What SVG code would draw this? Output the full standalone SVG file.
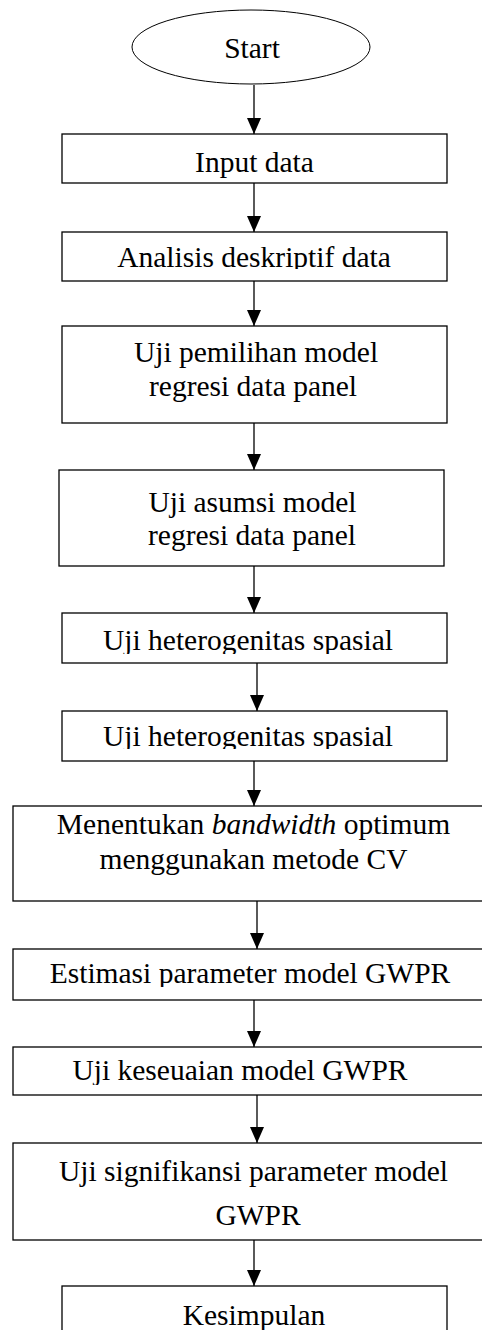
<svg xmlns="http://www.w3.org/2000/svg" width="482" height="1330" viewBox="0 0 482 1330">
<style>
.box{fill:#fff;stroke:#000;stroke-width:1.3}
.t{font-family:"Liberation Serif","Times New Roman",serif;font-size:29.5px;fill:#000;text-anchor:middle}
.c{stroke:#000;stroke-width:1.3;fill:none}
</style>
<defs>
<marker id="ah" markerUnits="userSpaceOnUse" viewBox="0 0 16 14" refX="16" refY="7" markerWidth="16" markerHeight="14" orient="auto">
<path d="M0,0 L16,7 L0,14 z" fill="#000"/>
</marker>
<clipPath id="cA"><rect x="0" y="232" width="482" height="37"/></clipPath>
<clipPath id="cH1"><rect x="0" y="613" width="482" height="41"/></clipPath>
<clipPath id="cH2"><rect x="0" y="711" width="482" height="38"/></clipPath>
<clipPath id="cE"><rect x="0" y="949" width="482" height="38"/></clipPath>
<clipPath id="cK"><rect x="0" y="1047" width="482" height="38"/></clipPath>
</defs>
<rect width="482" height="1330" fill="#fff"/>
<g id="connectors">
<line class="c" x1="254" y1="85" x2="254" y2="134" marker-end="url(#ah)"/>
<line class="c" x1="254" y1="183" x2="254" y2="232" marker-end="url(#ah)"/>
<line class="c" x1="254" y1="281" x2="254" y2="326" marker-end="url(#ah)"/>
<line class="c" x1="254" y1="423" x2="254" y2="470" marker-end="url(#ah)"/>
<line class="c" x1="254" y1="566" x2="254" y2="613" marker-end="url(#ah)"/>
<line class="c" x1="257" y1="663" x2="257" y2="711" marker-end="url(#ah)"/>
<line class="c" x1="254" y1="761" x2="254" y2="806" marker-end="url(#ah)"/>
<line class="c" x1="257" y1="901" x2="257" y2="949" marker-end="url(#ah)"/>
<line class="c" x1="254" y1="1000" x2="254" y2="1047" marker-end="url(#ah)"/>
<line class="c" x1="257" y1="1095" x2="257" y2="1143" marker-end="url(#ah)"/>
<line class="c" x1="254" y1="1240" x2="254" y2="1286" marker-end="url(#ah)"/>
</g>
<g id="start">
<ellipse cx="251" cy="47" rx="119" ry="37" fill="#fff" stroke="#000" stroke-width="1"/>
<text class="t" x="252" y="58">Start</text>
</g>
<g id="input">
<rect class="box" x="62" y="134" width="385" height="49"/>
<text class="t" x="254.5" y="172">Input data</text>
</g>
<g id="analisis">
<rect class="box" x="62" y="232" width="385" height="49"/>
<text class="t" x="254" y="267" clip-path="url(#cA)">Analisis deskriptif data</text>
</g>
<g id="pemilihan">
<rect class="box" x="62" y="326" width="385" height="97"/>
<text class="t" x="256" y="362">Uji pemilihan model</text>
<text class="t" x="253" y="396">regresi data panel</text>
</g>
<g id="asumsi">
<rect class="box" x="59" y="470" width="385" height="96"/>
<text class="t" x="252.5" y="512">Uji asumsi model</text>
<text class="t" x="252" y="545">regresi data panel</text>
</g>
<g id="heterogenitas1">
<rect class="box" x="62" y="613" width="385" height="50"/>
<text class="t" x="248" y="650" clip-path="url(#cH1)">Uji heterogenitas spasial</text>
</g>
<g id="heterogenitas2">
<rect class="box" x="62" y="711" width="385" height="50"/>
<text class="t" x="248" y="746" clip-path="url(#cH2)">Uji heterogenitas spasial</text>
</g>
<g id="bandwidth">
<rect class="box" x="13" y="806" width="482" height="95"/>
<text class="t" x="253.5" y="834">Menentukan <tspan font-style="italic">bandwidth</tspan> optimum</text>
<text class="t" x="253.5" y="869">menggunakan metode CV</text>
</g>
<g id="estimasi">
<rect class="box" x="13" y="949" width="482" height="51"/>
<text class="t" x="250" y="983" clip-path="url(#cE)">Estimasi parameter model GWPR</text>
</g>
<g id="keseuaian">
<rect class="box" x="13" y="1047" width="482" height="48"/>
<text class="t" x="240" y="1080" clip-path="url(#cK)">Uji keseuaian model GWPR</text>
</g>
<g id="signifikansi">
<rect class="box" x="13" y="1143" width="482" height="97"/>
<text class="t" x="253.5" y="1181">Uji signifikansi parameter model</text>
<text class="t" x="258" y="1225">GWPR</text>
</g>
<g id="kesimpulan">
<rect class="box" x="62" y="1286" width="385" height="80"/>
<text class="t" x="254" y="1325">Kesimpulan</text>
</g>
</svg>
